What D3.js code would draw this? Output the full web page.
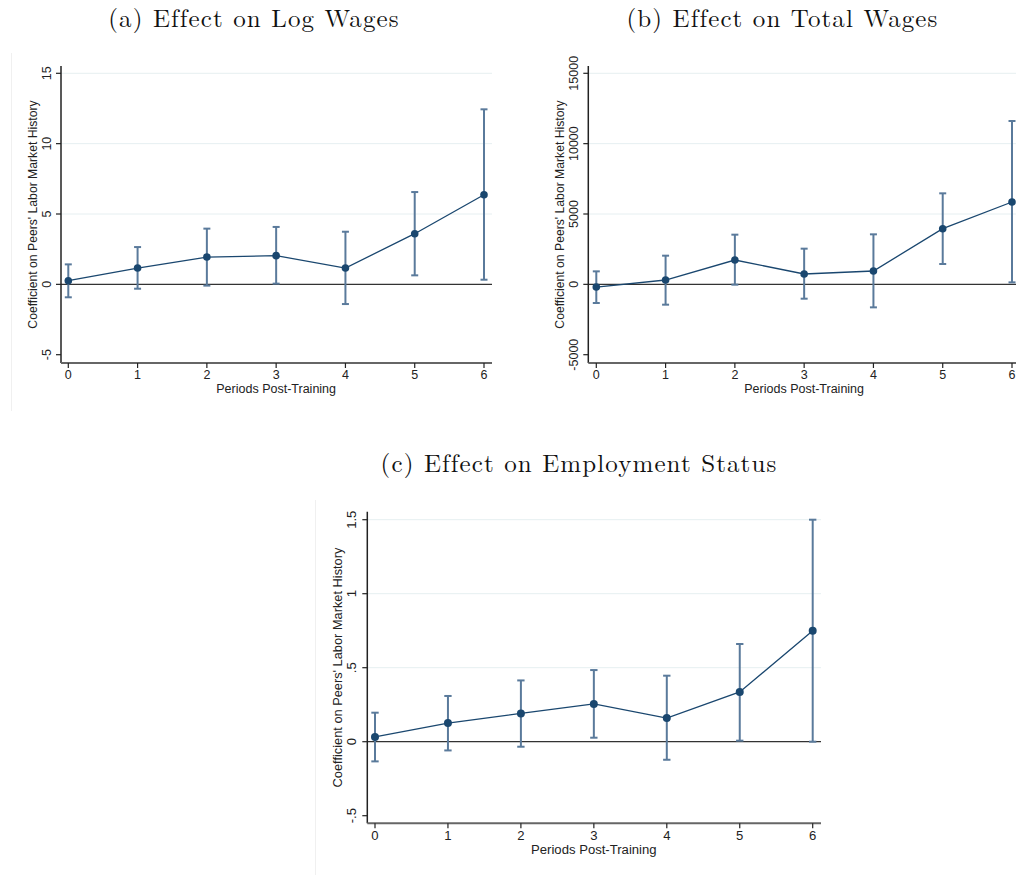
<!DOCTYPE html>
<html>
<head>
<meta charset="utf-8">
<script src="https://cdn.jsdelivr.net/npm/d3@7"></script>
<style>
  body { margin: 0; background: #fff; }
  svg { display: block; }
  .tick-label, .axis-title { font-family: "Liberation Sans", Arial, sans-serif; fill: #222; }
  .panel-title { font-family: "Latin Modern Roman", "Liberation Serif", serif; fill: #111; letter-spacing: 1.1px; }
</style>
</head>
<body>
<div id="chart"></div>
<script>
// periods after training (x values, shared by all three panels)
const periods = [0, 1, 2, 3, 4, 5, 6];

// (a) log wages
const logCoef = [0.26, 1.16, 1.94, 2.04, 1.16, 3.60, 6.37];
const logLow  = [-0.92, -0.31, -0.09, 0.05, -1.40, 0.64, 0.33];
const logHigh = [1.42, 2.65, 3.96, 4.08, 3.74, 6.56, 12.44];
const logTicks = [-5, 0, 5, 10, 15];
const logTickLabels = ["-5", "0", "5", "10", "15"];

// (b) total wages
const totCoef = [-190, 308, 1730, 735, 948, 3957, 5853];
const totLow  = [-1327, -1445, -24, -1019, -1635, 1445, 142];
const totHigh = [924, 2038, 3531, 2536, 3555, 6469, 11611];
const totTicks = [-5000, 0, 5000, 10000, 15000];
const totTickLabels = ["-5000", "0", "5000", "10000", "15000"];

// (c) employment status
const empCoef = [0.032, 0.126, 0.191, 0.255, 0.160, 0.336, 0.750];
const empLow  = [-0.133, -0.059, -0.034, 0.027, -0.122, 0.007, 0.0];
const empHigh = [0.196, 0.309, 0.414, 0.484, 0.446, 0.660, 1.50];
const empTicks = [-0.5, 0, 0.5, 1, 1.5];
const empTickLabels = ["-.5", "0", ".5", "1", "1.5"];

const xTitle = "Periods Post-Training";
const yTitle = "Coefficient on Peers' Labor Market History";

const svg = d3.select("#chart").append("svg")
    .attr("width", 1016)
    .attr("height", 875);

// faint frame edges left over from the original graph images
svg.append("line").attr("x1", 11.5).attr("x2", 11.5).attr("y1", 53).attr("y2", 411)
    .attr("stroke", "#f0f0f0").attr("stroke-width", 1);
svg.append("line").attr("x1", 315.5).attr("x2", 315.5).attr("y1", 500).attr("y2", 875)
    .attr("stroke", "#f0f0f0").attr("stroke-width", 1);

function panel(opt) {
    const g = svg.append("g");
    const k = opt.k; // font scale of this panel

    const x = d3.scaleLinear().domain([0, 6]).range([opt.x0, opt.x6]);
    const y = d3.scaleLinear().domain(d3.extent(opt.ticks)).range([opt.yBottomTick, opt.yTopTick]);

    // title
    g.append("text").attr("class", "panel-title")
        .attr("x", opt.titleX).attr("y", opt.titleY)
        .attr("text-anchor", "middle")
        .style("font-size", opt.titleSize + "px")
        .text(opt.title);

    // gridlines (not at the lowest tick, zero gets its own line)
    g.selectAll(".grid").data(opt.ticks.filter(t => t > 0))
        .enter().append("line")
        .attr("x1", opt.axisX).attr("x2", opt.right)
        .attr("y1", d => y(d)).attr("y2", d => y(d))
        .attr("stroke", "#e6eff1").attr("stroke-width", 1);

    // zero line
    g.append("line")
        .attr("x1", opt.axisX).attr("x2", opt.right)
        .attr("y1", y(0)).attr("y2", y(0))
        .attr("stroke", "#333").attr("stroke-width", 1.3);

    // y axis
    g.append("line")
        .attr("x1", opt.axisX).attr("x2", opt.axisX)
        .attr("y1", opt.top).attr("y2", opt.bottom)
        .attr("stroke", "#222").attr("stroke-width", 1.5);
    g.selectAll(".ytick").data(opt.ticks)
        .enter().append("line")
        .attr("x1", opt.axisX - 5).attr("x2", opt.axisX)
        .attr("y1", d => y(d)).attr("y2", d => y(d))
        .attr("stroke", "#222").attr("stroke-width", 1.2);
    g.selectAll(".ylab").data(opt.ticks)
        .enter().append("text").attr("class", "tick-label")
        .attr("transform", d => "translate(" + (opt.axisX - 10.5 * k) + "," + y(d) + ") rotate(-90)")
        .attr("text-anchor", "middle")
        .style("font-size", (12.5 * k) + "px")
        .text((d, i) => opt.tickLabels[i]);

    // x axis
    g.append("line")
        .attr("x1", opt.axisX).attr("x2", opt.right)
        .attr("y1", opt.bottom).attr("y2", opt.bottom)
        .attr("stroke", "#666").attr("stroke-width", 2);
    g.selectAll(".xtick").data(periods)
        .enter().append("line")
        .attr("x1", d => x(d)).attr("x2", d => x(d))
        .attr("y1", opt.bottom).attr("y2", opt.bottom + 5)
        .attr("stroke", "#222").attr("stroke-width", 1.2);
    g.selectAll(".xlab").data(periods)
        .enter().append("text").attr("class", "tick-label")
        .attr("x", d => x(d)).attr("y", opt.bottom + 15.5 * k)
        .attr("text-anchor", "middle")
        .style("font-size", (12.5 * k) + "px")
        .text(d => d);

    // axis titles
    g.append("text").attr("class", "axis-title")
        .attr("x", (opt.x0 + opt.x6) / 2).attr("y", opt.bottom + 29.5 * k)
        .attr("text-anchor", "middle")
        .style("font-size", (12.5 * k) + "px")
        .text(xTitle);
    g.append("text").attr("class", "axis-title")
        .attr("transform", "translate(" + (opt.axisX - 24 * k) + "," + ((opt.top + opt.bottom) / 2) + ") rotate(-90)")
        .attr("text-anchor", "middle")
        .style("font-size", (12.2 * k) + "px")
        .text(yTitle);

    // confidence intervals
    const ci = periods.map((p, i) => ({ p: p, lo: opt.low[i], hi: opt.high[i] }));
    const capW = 3.5 * k;
    const bars = g.append("g")
        .attr("stroke", "#5a7a9b").attr("stroke-width", 2).attr("fill", "none");
    bars.selectAll(".stem").data(ci).enter().append("line")
        .attr("x1", d => x(d.p)).attr("x2", d => x(d.p))
        .attr("y1", d => y(d.lo)).attr("y2", d => y(d.hi));
    bars.selectAll(".caplo").data(ci).enter().append("line")
        .attr("x1", d => x(d.p) - capW).attr("x2", d => x(d.p) + capW)
        .attr("y1", d => y(d.lo)).attr("y2", d => y(d.lo));
    bars.selectAll(".caphi").data(ci).enter().append("line")
        .attr("x1", d => x(d.p) - capW).attr("x2", d => x(d.p) + capW)
        .attr("y1", d => y(d.hi)).attr("y2", d => y(d.hi));

    // point estimates
    const pts = periods.map((p, i) => ({ p: p, v: opt.coef[i] }));
    g.append("path").datum(pts)
        .attr("fill", "none").attr("stroke", "#1a476f").attr("stroke-width", 1.3)
        .attr("d", d3.line().x(d => x(d.p)).y(d => y(d.v)));
    g.selectAll(".pt").data(pts).enter().append("circle")
        .attr("cx", d => x(d.p)).attr("cy", d => y(d.v))
        .attr("r", 3.8 * k).attr("fill", "#1a476f");
}

panel({
    title: "(a) Effect on Log Wages", titleX: 254, titleY: 27, titleSize: 25,
    coef: logCoef, low: logLow, high: logHigh, ticks: logTicks, tickLabels: logTickLabels,
    axisX: 61, right: 492, x0: 68.3, x6: 484,
    top: 66, bottom: 363, yTopTick: 73.3, yBottomTick: 354.7, k: 1
});

panel({
    title: "(b) Effect on Total Wages", titleX: 782.5, titleY: 27, titleSize: 25,
    coef: totCoef, low: totLow, high: totHigh, ticks: totTicks, tickLabels: totTickLabels,
    axisX: 588.3, right: 1016, x0: 596.3, x6: 1012,
    top: 66, bottom: 363, yTopTick: 73.3, yBottomTick: 354.7, k: 1
});

panel({
    title: "(c) Effect on Employment Status", titleX: 579, titleY: 472, titleSize: 25,
    coef: empCoef, low: empLow, high: empHigh, ticks: empTicks, tickLabels: empTickLabels,
    axisX: 367.3, right: 821, x0: 375, x6: 812.7,
    top: 511.7, bottom: 823.3, yTopTick: 519.7, yBottomTick: 815.7, k: 1.05
});
</script>
</body>
</html>
